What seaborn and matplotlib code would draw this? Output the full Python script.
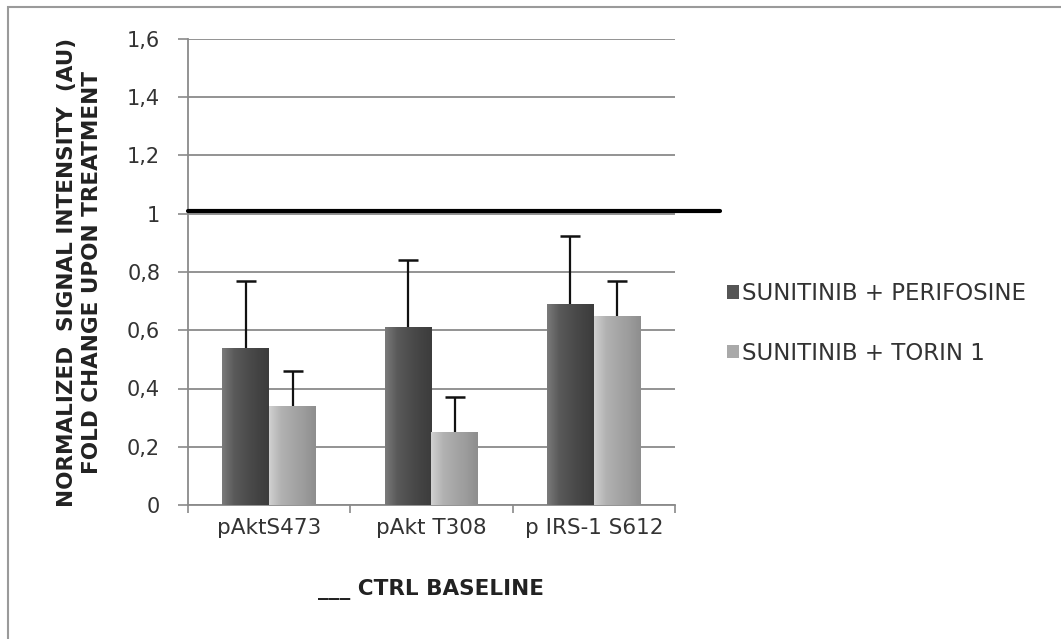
import numpy as np
import pandas as pd
import matplotlib
matplotlib.use("Agg")
import matplotlib.pyplot as plt
from matplotlib.patches import Rectangle
from matplotlib.ticker import FuncFormatter, FixedLocator
from matplotlib.colors import LinearSegmentedColormap
import seaborn as sns

# Data
markers = ["pAktS473", "pAkt T308", "p IRS-1 S612"]
treatments = ["SUNITINIB + PERIFOSINE", "SUNITINIB + TORIN 1"]
perifosine_mean = [0.54, 0.61, 0.69]
perifosine_err = [0.23, 0.23, 0.235]
torin_mean = [0.34, 0.25, 0.65]
torin_err = [0.12, 0.12, 0.12]
ctrl_baseline = 1.01

df = pd.DataFrame({
    "marker": markers * 2,
    "treatment": [treatments[0]] * 3 + [treatments[1]] * 3,
    "value": perifosine_mean + torin_mean,
    "err": perifosine_err + torin_err,
})

sns.set_theme(style="white")
plt.rcParams["font.family"] = ["DejaVu Sans"]

W, H = 1061, 639
fig = plt.figure(figsize=(W / 100, H / 100), dpi=100)
ax = fig.add_axes([188 / W, 1 - 505 / H, (675 - 188) / W, (505 - 39) / H])

palette = {treatments[0]: "#555555", treatments[1]: "#a9a9a9"}
sns.barplot(data=df, x="marker", y="value", hue="treatment", order=markers,
            hue_order=treatments, palette=palette, width=0.575, errorbar=None,
            saturation=1, edgecolor="none", linewidth=0, ax=ax, zorder=3)

# Shaded bar faces with horizontal gradient
shades = {
    treatments[0]: ["#7a7a7a", "#5a5a5a", "#4e4e4e", "#444444", "#3c3c3c"],
    treatments[1]: ["#d0d0d0", "#b2b2b2", "#a6a6a6", "#9c9c9c", "#8e8e8e"],
}
grad = np.linspace(0, 1, 64).reshape(1, -1)
bar_patches = list(ax.patches)[: 2 * len(markers)]
for i, patch in enumerate(bar_patches):
    tr = treatments[i // len(markers)]
    cmap = LinearSegmentedColormap.from_list("g", shades[tr])
    x0, y0 = patch.get_x(), patch.get_y()
    w, h = patch.get_width(), patch.get_height()
    im = ax.imshow(grad, cmap=cmap, aspect="auto", extent=[x0, x0 + w, y0, y0 + h],
                   zorder=3.5, interpolation="bicubic")
    im.set_clip_path(patch)

# Upper-only error bars positioned on the drawn bars
for i, patch in enumerate(bar_patches):
    row = df.iloc[i]
    xc = patch.get_x() + patch.get_width() / 2
    _, caps, _ = ax.errorbar(xc, row["value"], yerr=[[0], [row["err"]]], fmt="none",
                             ecolor="#111111", elinewidth=1.6, capsize=7.5,
                             capthick=1.8, zorder=4)
    caps[0].set_visible(False)

# Control baseline
ax.axhline(ctrl_baseline, xmin=0, xmax=(720 - 188) / (675 - 188), color="black",
           linewidth=3, clip_on=False, zorder=5)

ax.set_xlim(-0.5, 2.5)
ax.set_ylim(0, 1.6)
ax.yaxis.set_major_locator(FixedLocator(np.arange(0, 1.61, 0.2)))
ax.yaxis.set_major_formatter(FuncFormatter(
    lambda v, p: ("%g" % round(v, 1)).replace(".", ",")))
ax.grid(axis="y", color="#8a8a8a", linewidth=1.3, zorder=0)
ax.set_axisbelow(True)

for s in ["top", "right"]:
    ax.spines[s].set_visible(False)
for s in ["left", "bottom"]:
    ax.spines[s].set_color("#8a8a8a")
    ax.spines[s].set_linewidth(1.3)

ax.tick_params(axis="y", which="major", left=True, length=7, width=1.2,
               color="#8a8a8a", labelsize=15, labelcolor="#333333", pad=13)
ax.set_xticks(range(len(markers)))
ax.set_xticklabels(markers)
ax.set_xticks([-0.5, 0.5, 1.5, 2.5], minor=True)
ax.tick_params(axis="x", which="major", bottom=False, labelsize=15.5,
               labelcolor="#333333", pad=3)
ax.tick_params(axis="x", which="minor", bottom=True, length=6, width=1.2,
               color="#8a8a8a")

ax.set_xlabel("___ CTRL BASELINE", fontsize=15.5, fontweight="bold",
              color="#222222", labelpad=30)
ax.set_ylabel("NORMALIZED  SIGNAL INTENSITY  (AU)\nFOLD CHANGE UPON TREATMENT",
              fontsize=15.5, fontweight="bold", color="#222222", labelpad=18,
              linespacing=1.3)

handles, labels = ax.get_legend_handles_labels()
ax.legend(handles, labels, loc="center left", bbox_to_anchor=(1.065, 0.39),
          frameon=False, fontsize=16.5, handlelength=0.5, handleheight=0.55,
          handletextpad=0.15, labelspacing=1.6, labelcolor="#333333")

# Outer chart frame
fig.add_artist(Rectangle((8 / W, -0.05), 1.2, 1 - 7 / H + 0.05, transform=fig.transFigure,
                         fill=False, edgecolor="#9a9a9a", linewidth=1.5))

fig.savefig("out.png", dpi=100, facecolor="white")
